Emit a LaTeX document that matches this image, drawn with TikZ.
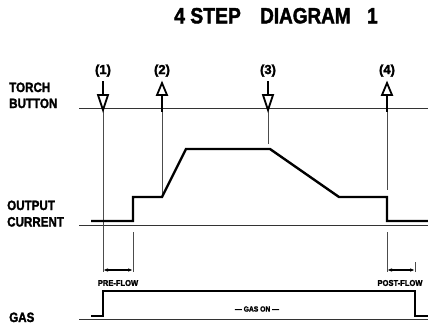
\documentclass[tikz,border=0pt]{standalone}
\usepackage{fontspec}
\setmainfont{Liberation Sans}[BoldFont={Liberation Sans Bold}, BoldFeatures={FakeBold=2}]
\usetikzlibrary{arrows.meta}
\newcommand{\cnd}[2]{\scalebox{#1}[1]{#2}}
\begin{document}
\begin{tikzpicture}[x=1pt,y=-1pt,
  thinline/.style={line width=0.6pt, draw=black!70},
  baseline/.style={line width=0.9pt, draw=black!80},
  wave/.style={line width=2.4pt, line join=miter},
  shaft/.style={line width=2.6pt},
  head/.style={line width=1.8pt, fill=white, line join=miter},
  dim/.style={line width=1.3pt, {Latex[length=5pt,width=3.6pt]}-{Latex[length=5pt,width=3.6pt]}},
  title/.style={font=\bfseries\fontsize{22}{22}\selectfont, inner sep=0pt, anchor=base west},
  side/.style={font=\bfseries\fontsize{13.5}{13.5}\selectfont, inner sep=0pt, anchor=base west},
  num/.style={font=\bfseries\fontsize{13}{13}\selectfont, inner sep=0pt, anchor=base},
  small/.style={font=\bfseries\fontsize{8.4}{8.4}\selectfont, inner sep=0pt}
]
\useasboundingbox[fill=white] (0,0) rectangle (428,324);

% title
\node[title] (t1) at (174,23.3) {\cnd{0.88}{4 STEP}};
\node[title] (t2) at (260,23.3) {\cnd{0.86}{DIAGRAM}};
\node[title] (t3) at (367,23.3) {\cnd{0.86}{1}};

% side labels
\node[side] (torch) at (9,92) {\cnd{0.86}{TORCH}};
\node[side] (button) at (9,108) {\cnd{0.86}{BUTTON}};
\node[side] (output) at (7,210) {\cnd{0.86}{OUTPUT}};
\node[side] (current) at (7,226.5) {\cnd{0.86}{CURRENT}};
\node[side] (gas) at (9,322) {\cnd{0.86}{GAS}};

% base lines
\coordinate (tbL) at (79,108); \coordinate (tbR) at (428,108);
\coordinate (cbL) at (79,225.5); \coordinate (cbR) at (428,225.5);
\coordinate (gbL) at (79,319); \coordinate (gbR) at (428,319);
\draw[baseline] (tbL) -- (tbR);
\draw[baseline] (cbL) -- (cbR);
\draw[baseline] (gbL) -- (gbR);

% step numbers
\node[num] (n1) at (103,74) {(1)};
\node[num] (n2) at (162,74) {(2)};
\node[num] (n3) at (268,74) {(3)};
\node[num] (n4) at (387,74) {(4)};

% vertical guide lines
\coordinate (v1a) at (103,108); \coordinate (v1b) at (103,272);
\coordinate (v2a) at (162,108); \coordinate (v2b) at (162,197);
\coordinate (v3a) at (268,108); \coordinate (v3b) at (268,144);
\coordinate (v4a) at (387,108); \coordinate (v4b) at (387,190);
\coordinate (e1a) at (133,232); \coordinate (e1b) at (133,272);
\coordinate (e2a) at (387,232); \coordinate (e2b) at (387,272);
\coordinate (e3a) at (415,262); \coordinate (e3b) at (415,272);
\foreach \a/\b in {v1a/v1b,v2a/v2b,v3a/v3b,v4a/v4b,e1a/e1b,e2a/e2b,e3a/e3b}
  \draw[thinline] (\a) -- (\b);

% down arrows (1),(3)
\foreach \X in {103,268}{
  \draw[shaft] (\X,81) -- (\X,95);
  \draw[head] (\X-5,95) -- (\X+5,95) -- (\X,110) -- cycle;
}
% up arrows (2),(4)
\foreach \X in {162,387}{
  \draw[shaft] (\X,95) -- (\X,112);
  \draw[head] (\X,83) -- (\X+5,95) -- (\X-5,95) -- cycle;
}

% output current waveform
\draw[wave] (91,221) -- (133,221) -- (133,197) -- (162,197) -- (186,149)
  -- (270,149) -- (339,197) -- (387,197) -- (387,221) -- (428,221);

% gas waveform
\draw[wave] (91,316) -- (103,316) -- (103,291) -- (415,291) -- (415,316) -- (428,316);

% dimension arrows
\draw[dim] (103,270) -- (133,270);
\draw[dim] (387,270) -- (415,270);
\node[small] (pre) at (118,283) {\cnd{0.9}{PRE-FLOW}};
\node[small] (post) at (400,283) {\cnd{0.9}{POST-FLOW}};
\node[small] (gason) at (257,309) {\cnd{0.9}{\fontsize{7.5}{7.5}\selectfont — GAS ON —}};
\end{tikzpicture}
\end{document}
